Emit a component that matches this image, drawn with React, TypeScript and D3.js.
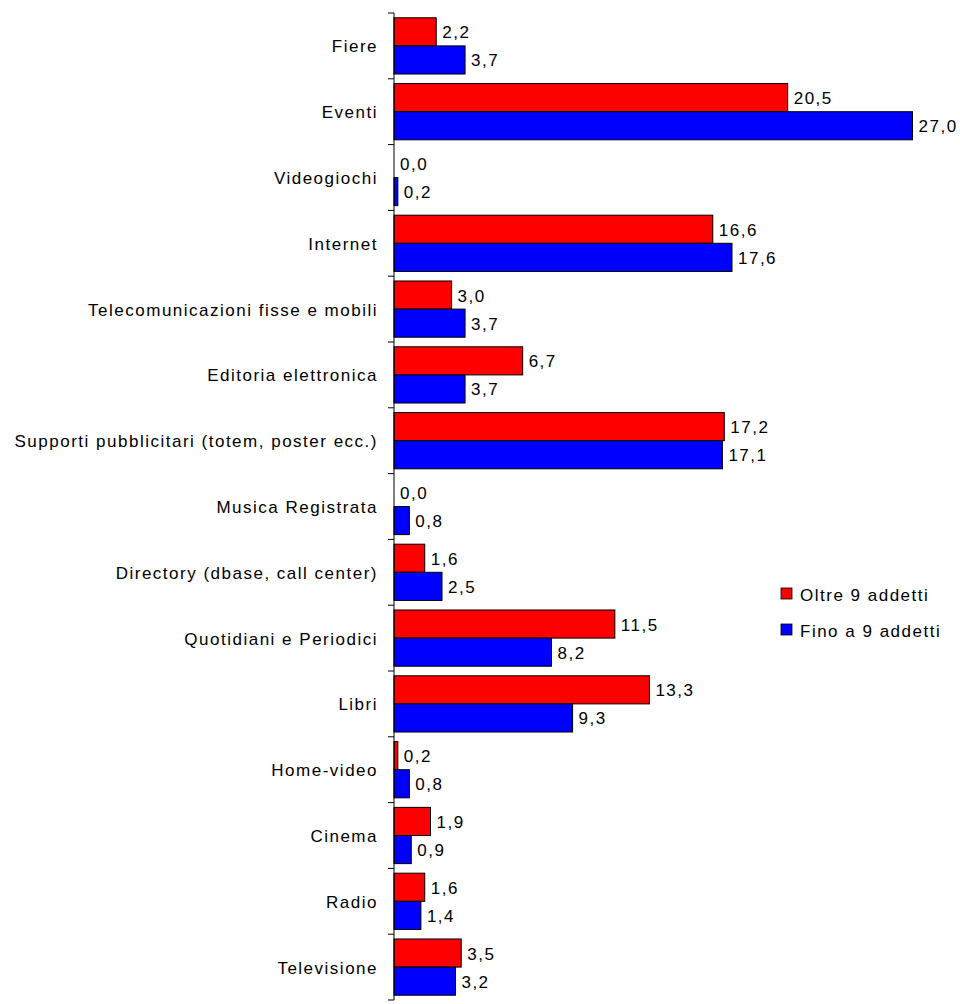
import React from "react";
import * as d3 from "d3";

const categories = [
  "Fiere",
  "Eventi",
  "Videogiochi",
  "Internet",
  "Telecomunicazioni fisse e mobili",
  "Editoria elettronica",
  "Supporti pubblicitari (totem, poster ecc.)",
  "Musica Registrata",
  "Directory (dbase, call center)",
  "Quotidiani e Periodici",
  "Libri",
  "Home-video",
  "Cinema",
  "Radio",
  "Televisione",
];
const oltre9 = [2.2, 20.5, 0.0, 16.6, 3.0, 6.7, 17.2, 0.0, 1.6, 11.5, 13.3, 0.2, 1.9, 1.6, 3.5];
const fino9 = [3.7, 27.0, 0.2, 17.6, 3.7, 3.7, 17.1, 0.8, 2.5, 8.2, 9.3, 0.8, 0.9, 1.4, 3.2];
const seriesNames = ["Oltre 9 addetti", "Fino a 9 addetti"];
const seriesColors = ["#ff0000", "#0000ff"];

const fmt = (v: number) => v.toFixed(1).replace(".", ",");

export default function App() {
  const width = 960;
  const height = 1004;
  const x0 = 394;
  const top = 13;
  const bottom = 1000;
  const x = d3.scaleLinear().domain([0, 27]).range([x0, x0 + 518.5]);
  const y = d3.scaleBand<string>().domain(categories).range([top, bottom]);
  const inner = d3
    .scaleBand<number>()
    .domain([0, 1])
    .range([0, y.bandwidth()])
    .paddingOuter(0.17)
    .paddingInner(0);
  const font = "'Liberation Sans', Arial, sans-serif";
  const fs = 17;
  const ls = 1.5;
  const series = [oltre9, fino9];
  const ticks = categories.map((c) => y(c)!).concat([bottom]);
  return (
    <svg
      width={width}
      height={height}
      style={{ position: "absolute", left: 0, top: 0, background: "#fff" }}
      fontFamily={font}
    >
      {categories.map((c, i) => (
        <g key={c} transform={`translate(0,${y(c)})`}>
          <text
            x={378}
            y={y.bandwidth() / 2 + 1}
            textAnchor="end"
            dominantBaseline="central"
            fontSize={fs}
            letterSpacing={ls}
            fill="#000"
          >
            {c}
          </text>
          {series.map((s, k) => {
            const v = s[i];
            const by = inner(k)!;
            const bh = inner.bandwidth();
            return (
              <g key={k}>
                {v > 0 && (
                  <rect
                    x={x(0)}
                    y={by}
                    width={x(v) - x(0)}
                    height={bh}
                    fill={seriesColors[k]}
                    stroke="#000"
                    strokeWidth={1}
                  />
                )}
                <text
                  x={x(v) + 6}
                  y={by + bh / 2 + 1}
                  dominantBaseline="central"
                  fontSize={fs}
                  letterSpacing={ls}
                  fill="#000"
                >
                  {fmt(v)}
                </text>
              </g>
            );
          })}
        </g>
      ))}
      <line x1={x0} x2={x0} y1={top} y2={bottom} stroke="#000" strokeWidth={1} />
      {ticks.map((t, i) => (
        <line key={i} x1={x0 - 6} x2={x0} y1={t} y2={t} stroke="#000" strokeWidth={1} />
      ))}
      {seriesNames.map((n, k) => (
        <g key={n} transform={`translate(781,${588 + k * 36})`}>
          <rect x={0} y={0} width={11} height={11} fill={seriesColors[k]} stroke="#000" strokeWidth={0.8} />
          <text x={19} y={7} dominantBaseline="central" fontSize={fs} letterSpacing={ls} fill="#000">
            {n}
          </text>
        </g>
      ))}
    </svg>
  );
}
